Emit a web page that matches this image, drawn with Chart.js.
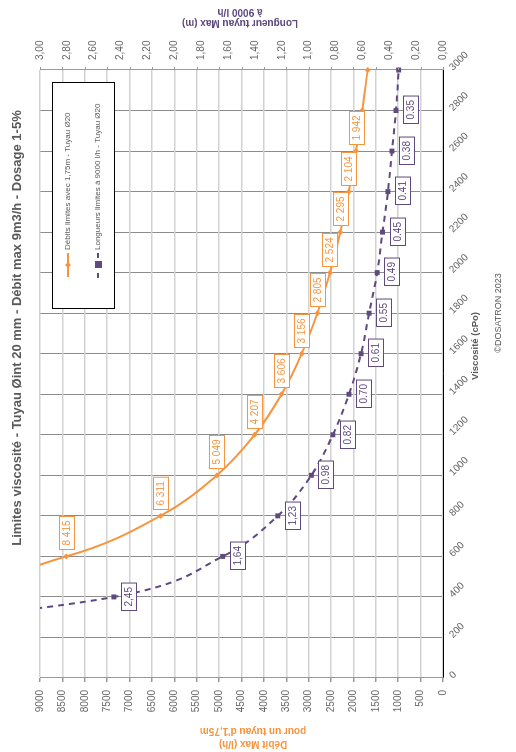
<!DOCTYPE html>
<html>
<head>
<meta charset="utf-8">
<script src="https://cdn.jsdelivr.net/npm/chart.js@4.4.0/dist/chart.umd.min.js"></script>
<style>
  html, body { margin: 0; padding: 0; background: #fff; }
  body { width: 516px; height: 752px; overflow: hidden; position: relative; }
  /* chart is built landscape then turned a quarter left */
  #wrap {
    position: absolute; left: 0; top: 0;
    width: 752px; height: 516px;
    transform-origin: 0 0;
    transform: translate(0, 752px) rotate(-90deg);
  }
</style>
</head>
<body>
<div id="wrap"><canvas id="vChart" width="752" height="516"></canvas></div>
<script>
// Data
var viscosity = [200, 400, 600, 800, 1000, 1200, 1400, 1600, 1800, 2000, 2200, 2400, 2600, 2800, 3000];
var debitMax = [25245, 12622, 8415, 6311, 5049, 4207, 3606, 3156, 2805, 2524, 2295, 2104, 1942, 1803, 1683];
var longueurMax = [4.90, 2.45, 1.64, 1.23, 0.98, 0.82, 0.70, 0.61, 0.55, 0.49, 0.45, 0.41, 0.38, 0.35, 0.33];
var debitLabels = ['', '', '8 415', '6 311', '5 049', '4 207', '3 606', '3 156', '2 805', '2 524', '2 295', '2 104', '1 942', '', ''];
var longueurLabels = ['', '2,45', '1,64', '1,23', '0.98', '0.82', '0.70', '0.61', '0.55', '0.49', '0.45', '0.41', '0.38', '0.35', ''];
var viscoTicks = [0, 200, 400, 600, 800, 1000, 1200, 1400, 1600, 1800, 2000, 2200, 2400, 2600, 2800, 3000];

var seriesNames = ['Débits limites avec 1,75m - Tuyau Ø20', 'Longueurs limites à 9000 l/h - Tuyau Ø20'];
var chartTitle = 'Limites viscosité - Tuyau Øint 20 mm - Débit max 9m3/h - Dosage 1-5%';

var orange = '#F7953F';
var purple = '#5E4A7E';
var grey = '#595959';
var fontFam = '"Liberation Sans", Arial, sans-serif';

function pts(ys) {
    return viscosity.map(function(v, i) { return { x: v, y: ys[i] }; });
}

function labelBox(ctx, txt, cx, cy, color) {
    ctx.font = '10px ' + fontFam;
    var w = ctx.measureText(txt).width + 8;
    var h = 15;
    var x0 = Math.round(cx - w / 2) + 0.5, y0 = Math.round(cy - h / 2) + 0.5;
    ctx.fillStyle = '#fff';
    ctx.fillRect(x0, y0, w, h);
    ctx.strokeStyle = color;
    ctx.lineWidth = 1;
    ctx.strokeRect(x0, y0, w, h);
    ctx.fillStyle = color;
    ctx.textAlign = 'center';
    ctx.textBaseline = 'middle';
    ctx.fillText(txt, x0 + w / 2, y0 + h / 2 + 0.5);
    return w;
}

// extra texts, labels and legend
var decorPlugin = {
    id: 'decor',
    afterDraw: function(chart) {
        var ctx = chart.ctx;
        var xs = chart.scales.x, ys = chart.scales.y, area = chart.chartArea;
        ctx.save();

        // small marks on the right axis
        ctx.strokeStyle = '#999';
        ctx.lineWidth = 1;
        ys.ticks.forEach(function(t) {
            var py = Math.round(ys.getPixelForValue(t.value)) + 0.5;
            ctx.beginPath();
            ctx.moveTo(area.right, py);
            ctx.lineTo(area.right + 3, py);
            ctx.stroke();
        });

        // viscosity tick labels, slanted
        ctx.fillStyle = '#666';
        ctx.font = '10px ' + fontFam;
        ctx.textAlign = 'left';
        ctx.textBaseline = 'middle';
        viscoTicks.forEach(function(v) {
            var px = xs.getPixelForValue(v);
            ctx.save();
            ctx.translate(px + 1, area.bottom + 8);
            ctx.rotate(Math.PI / 4);
            ctx.fillText(String(v), 0, 0);
            ctx.restore();
        });

        // data labels
        var m0 = chart.getDatasetMeta(0).data;
        var m1 = chart.getDatasetMeta(1).data;
        debitLabels.forEach(function(txt, i) {
            if (!txt) return;
            var p = m0[i];
            ctx.font = '10px ' + fontFam;
            var w = ctx.measureText(txt).width + 8;
            labelBox(ctx, txt, p.x + 6 + w / 2, p.y, orange);
        });
        longueurLabels.forEach(function(txt, i) {
            if (!txt) return;
            var p = m1[i];
            labelBox(ctx, txt, p.x, p.y + 7 + 7.5, purple);
        });

        // legend
        ctx.fillStyle = '#fff';
        ctx.fillRect(443.5, 52.5, 226, 62);
        ctx.strokeStyle = '#000';
        ctx.lineWidth = 1;
        ctx.strokeRect(443.5, 52.5, 226, 62);

        ctx.strokeStyle = orange;
        ctx.lineWidth = 2;
        ctx.beginPath(); ctx.moveTo(475, 68); ctx.lineTo(499, 68); ctx.stroke();
        ctx.fillStyle = orange;
        ctx.beginPath();
        ctx.moveTo(487, 65); ctx.lineTo(490, 68); ctx.lineTo(487, 71); ctx.lineTo(484, 68);
        ctx.closePath(); ctx.fill();

        ctx.strokeStyle = purple;
        ctx.setLineDash([5, 5]);
        ctx.beginPath(); ctx.moveTo(474, 98); ctx.lineTo(500, 98); ctx.stroke();
        ctx.setLineDash([]);
        ctx.fillStyle = purple;
        ctx.fillRect(484, 95, 7, 7);

        ctx.fillStyle = grey;
        ctx.font = '8px ' + fontFam;
        ctx.textAlign = 'left';
        ctx.textBaseline = 'middle';
        ctx.fillText(seriesNames[0], 502, 68);
        ctx.fillText(seriesNames[1], 502, 98);

        // chart title
        ctx.font = 'bold 13px ' + fontFam;
        ctx.textAlign = 'center';
        ctx.fillStyle = grey;
        ctx.fillText(chartTitle, 424, 17);

        // viscosity title and copyright
        ctx.font = 'bold 9.5px ' + fontFam;
        ctx.fillText('Viscosité (cPo)', 406, 475);
        ctx.font = '9px ' + fontFam;
        ctx.fillText('©DOSATRON 2023', 439, 499);

        // left axis title
        ctx.save();
        ctx.translate(0, 253);
        ctx.rotate(-Math.PI / 2);
        ctx.font = 'bold 10px ' + fontFam;
        ctx.fillStyle = orange;
        ctx.fillText('Débit Max (l/h)', 0, 8);
        ctx.fillText("pour un tuyau d'1,75m", 0, 21);
        ctx.restore();

        // right axis title
        ctx.save();
        ctx.translate(0, 240);
        ctx.rotate(-Math.PI / 2);
        ctx.font = 'bold 10px ' + fontFam;
        ctx.fillStyle = purple;
        ctx.fillText('Longueur tuyau Max (m)', 0, 729);
        ctx.fillText('à 9000 l/h', 0, 740);
        ctx.restore();

        ctx.restore();
    }
};

window.onload = function() {
    var ctx = document.getElementById('vChart').getContext('2d');
    var vChart = new Chart(ctx, {
        type: 'line',
        data: {
            datasets: [{
                label: seriesNames[0],
                data: pts(debitMax),
                yAxisID: 'y',
                borderColor: orange,
                backgroundColor: orange,
                borderWidth: 2,
                pointStyle: 'rectRot',
                pointRadius: 3,
                pointBorderWidth: 0,
                cubicInterpolationMode: 'monotone',
                clip: { left: 0, top: 0, right: 6, bottom: 0 }
            }, {
                label: seriesNames[1],
                data: pts(longueurMax),
                yAxisID: 'y2',
                borderColor: purple,
                backgroundColor: purple,
                borderWidth: 2,
                borderDash: [6, 5],
                pointStyle: 'rect',
                pointRadius: 3.5,
                pointBorderWidth: 0,
                cubicInterpolationMode: 'monotone',
                clip: { left: 0, top: 0, right: 6, bottom: 0 }
            }]
        },
        options: {
            responsive: false,
            animation: false,
            devicePixelRatio: 1,
            layout: { padding: { top: 40, left: 0, right: 0, bottom: 0 } },
            plugins: {
                legend: { display: false },
                title: { display: false },
                tooltip: { enabled: false }
            },
            scales: {
                x: {
                    type: 'linear',
                    min: 0,
                    max: 3000,
                    ticks: { stepSize: 200, display: false },
                    grid: { color: '#8c8c8c', drawTicks: false },
                    border: { color: '#000', width: 1 },
                    afterFit: function(s) { s.height = 73; }
                },
                y: {
                    position: 'left',
                    min: 0,
                    max: 9000,
                    ticks: {
                        stepSize: 500,
                        padding: 8,
                        color: '#666',
                        font: { family: fontFam, size: 10 },
                        callback: function(value) { return String(value); }
                    },
                    grid: { color: '#d2d2d2', lineWidth: 1.5, tickLength: 4, tickColor: '#999' },
                    border: { color: '#999' },
                    afterFit: function(s) { s.width = 74; }
                },
                y2: {
                    position: 'right',
                    min: 0,
                    max: 3,
                    ticks: {
                        stepSize: 0.2,
                        padding: 10,
                        color: '#666',
                        font: { family: fontFam, size: 10 },
                        callback: function(value) {
                            return value.toFixed(2).replace('.', ',');
                        }
                    },
                    grid: { drawOnChartArea: false, drawTicks: false },
                    border: { color: '#999' },
                    afterFit: function(s) { s.width = 70; }
                }
            }
        },
        plugins: [decorPlugin]
    });
};
</script>
</body>
</html>
